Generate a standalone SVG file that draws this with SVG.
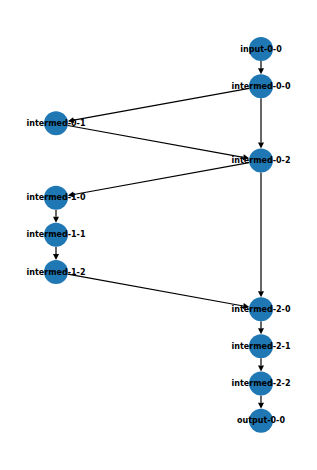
<svg xmlns="http://www.w3.org/2000/svg" width="317" height="470" viewBox="0 0 317 470">
<style>
.e{stroke:#000;stroke-width:1.2;fill:none;marker-end:url(#ah)}
.n circle{fill:#1f77b4}
.n text{font-family:"DejaVu Sans",sans-serif;font-weight:bold;font-size:8px;fill:#000;text-anchor:middle;dominant-baseline:central}
</style>
<defs>
<marker id="ah" markerUnits="userSpaceOnUse" markerWidth="8" markerHeight="8" refX="0" refY="4" orient="auto" viewBox="0 0 8 8" overflow="visible">
<path d="M0,1 L6,4 L0,7 Z" fill="#000"/>
</marker>
</defs>
<rect width="317" height="470" fill="#fff"/>
<g id="connectors">
<line class="e" x1="261" y1="61" x2="261" y2="68.17"/>
<line class="e" x1="249.2" y1="88.31" x2="73.7" y2="120.13"/>
<line class="e" x1="261" y1="98.17" x2="261" y2="142.51"/>
<line class="e" x1="67.8" y1="125.48" x2="243.3" y2="157.30"/>
<line class="e" x1="249.2" y1="162.65" x2="73.7" y2="194.47"/>
<line class="e" x1="261" y1="172.51" x2="261" y2="291.19"/>
<line class="e" x1="56" y1="209.68" x2="56" y2="216.85"/>
<line class="e" x1="56" y1="246.85" x2="56" y2="254.02"/>
<line class="e" x1="67.8" y1="274.16" x2="243.3" y2="305.98"/>
<line class="e" x1="261" y1="321.19" x2="261" y2="328.36"/>
<line class="e" x1="261" y1="358.36" x2="261" y2="365.53"/>
<line class="e" x1="261" y1="395.53" x2="261" y2="402.7"/>
</g>
<g id="input-0-0" class="n"><circle cx="261" cy="49" r="12"/><text x="261" y="49">input-0-0</text></g>
<g id="intermed-0-0" class="n"><circle cx="261" cy="86.17" r="12"/><text x="261" y="86.17">intermed-0-0</text></g>
<g id="intermed-0-1" class="n"><circle cx="56" cy="123.34" r="12"/><text x="56" y="123.34">intermed-0-1</text></g>
<g id="intermed-0-2" class="n"><circle cx="261" cy="160.51" r="12"/><text x="261" y="160.51">intermed-0-2</text></g>
<g id="intermed-1-0" class="n"><circle cx="56" cy="197.68" r="12"/><text x="56" y="197.68">intermed-1-0</text></g>
<g id="intermed-1-1" class="n"><circle cx="56" cy="234.85" r="12"/><text x="56" y="234.85">intermed-1-1</text></g>
<g id="intermed-1-2" class="n"><circle cx="56" cy="272.02" r="12"/><text x="56" y="272.02">intermed-1-2</text></g>
<g id="intermed-2-0" class="n"><circle cx="261" cy="309.19" r="12"/><text x="261" y="309.19">intermed-2-0</text></g>
<g id="intermed-2-1" class="n"><circle cx="261" cy="346.36" r="12"/><text x="261" y="346.36">intermed-2-1</text></g>
<g id="intermed-2-2" class="n"><circle cx="261" cy="383.53" r="12"/><text x="261" y="383.53">intermed-2-2</text></g>
<g id="output-0-0" class="n"><circle cx="261" cy="420.7" r="12"/><text x="261" y="420.7">output-0-0</text></g>
</svg>
